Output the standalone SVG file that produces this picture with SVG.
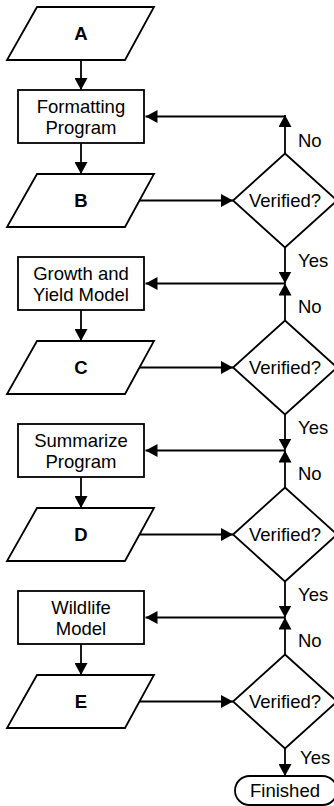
<svg xmlns="http://www.w3.org/2000/svg" width="334" height="806" viewBox="0 0 334 806">
<style>
.s{fill:#fff;stroke:#000;stroke-width:1.8}
.t{font-family:"Liberation Sans",Arial,sans-serif;font-size:18.5px;fill:#000;text-anchor:middle}
.b{font-weight:bold}
.l{font-family:"Liberation Sans",Arial,sans-serif;font-size:18.5px;fill:#000}
.c{fill:none;stroke:#000;stroke-width:1.8}
</style>
<defs>
<marker id="ah" markerUnits="userSpaceOnUse" markerWidth="12" markerHeight="13" refX="12" refY="6.5" orient="auto">
<path d="M0,0 L12,6.5 L0,13 z" fill="#000"/>
</marker>
</defs>
<g id="connectors">
<path class="c" d="M81,60 V90" marker-end="url(#ah)"/>
<path class="c" d="M81,143 V174" marker-end="url(#ah)"/>
<path class="c" d="M81,310 V341" marker-end="url(#ah)"/>
<path class="c" d="M81,477 V508" marker-end="url(#ah)"/>
<path class="c" d="M81,644 V675" marker-end="url(#ah)"/>
<path class="c" d="M139.5,200.5 H233" marker-end="url(#ah)"/>
<path class="c" d="M139.5,367.5 H233" marker-end="url(#ah)"/>
<path class="c" d="M139.5,534.5 H233" marker-end="url(#ah)"/>
<path class="c" d="M139.5,701.5 H233" marker-end="url(#ah)"/>
<path class="c" d="M285,153.5 V115" marker-end="url(#ah)"/>
<path class="c" d="M285,320.5 V283.5" marker-end="url(#ah)"/>
<path class="c" d="M285,487.5 V450.5" marker-end="url(#ah)"/>
<path class="c" d="M285,654.5 V617.5" marker-end="url(#ah)"/>
<path class="c" d="M285,247.5 V283.5" marker-end="url(#ah)"/>
<path class="c" d="M285,414.5 V450.5" marker-end="url(#ah)"/>
<path class="c" d="M285,581.5 V617.5" marker-end="url(#ah)"/>
<path class="c" d="M285,748.5 V776" marker-end="url(#ah)"/>
<path class="c" d="M285,116.5 H145.5" marker-end="url(#ah)"/>
<path class="c" d="M285,283.5 H145.5" marker-end="url(#ah)"/>
<path class="c" d="M285,450.5 H145.5" marker-end="url(#ah)"/>
<path class="c" d="M285,617.5 H145.5" marker-end="url(#ah)"/>
<text class="l" x="298" y="147">No</text>
<text class="l" x="298" y="267">Yes</text>
<text class="l" x="298" y="313">No</text>
<text class="l" x="298" y="434">Yes</text>
<text class="l" x="298" y="480">No</text>
<text class="l" x="298" y="601">Yes</text>
<text class="l" x="298" y="647">No</text>
<text class="l" x="300" y="764">Yes</text>
</g>
<g id="A">
<polygon class="s" points="37,7 154,7 125,60 7,60"/>
<text class="t b" x="81" y="40">A</text>
</g>
<g id="formatting">
<rect class="s" x="18" y="90" width="126" height="53"/>
<text class="t" x="81" y="113">Formatting</text>
<text class="t" x="81" y="134">Program</text>
</g>
<g id="B">
<polygon class="s" points="37,174 154,174 125,227 7,227"/>
<text class="t b" x="81" y="207">B</text>
</g>
<g id="verify1">
<polygon class="s" points="285,153.5 337,200.5 285,247.5 233,200.5"/>
<text class="t" x="285" y="207">Verified?</text>
</g>
<g id="growth">
<rect class="s" x="18" y="257" width="126" height="53"/>
<text class="t" x="81" y="280">Growth and</text>
<text class="t" x="81" y="301">Yield Model</text>
</g>
<g id="C">
<polygon class="s" points="37,341 154,341 125,394 7,394"/>
<text class="t b" x="81" y="374">C</text>
</g>
<g id="verify2">
<polygon class="s" points="285,320.5 337,367.5 285,414.5 233,367.5"/>
<text class="t" x="285" y="374">Verified?</text>
</g>
<g id="summarize">
<rect class="s" x="18" y="424" width="126" height="53"/>
<text class="t" x="81" y="447">Summarize</text>
<text class="t" x="81" y="468">Program</text>
</g>
<g id="D">
<polygon class="s" points="37,508 154,508 125,561 7,561"/>
<text class="t b" x="81" y="541">D</text>
</g>
<g id="verify3">
<polygon class="s" points="285,487.5 337,534.5 285,581.5 233,534.5"/>
<text class="t" x="285" y="541">Verified?</text>
</g>
<g id="wildlife">
<rect class="s" x="18" y="591" width="126" height="53"/>
<text class="t" x="81" y="614">Wildlife</text>
<text class="t" x="81" y="635">Model</text>
</g>
<g id="E">
<polygon class="s" points="37,675 154,675 125,728 7,728"/>
<text class="t b" x="81" y="708">E</text>
</g>
<g id="verify4">
<polygon class="s" points="285,654.5 337,701.5 285,748.5 233,701.5"/>
<text class="t" x="285" y="708">Verified?</text>
</g>
<g id="finished">
<rect class="s" x="235" y="776" width="102" height="29" rx="14.5"/>
<text class="t" x="285" y="797">Finished</text>
</g>
</svg>
